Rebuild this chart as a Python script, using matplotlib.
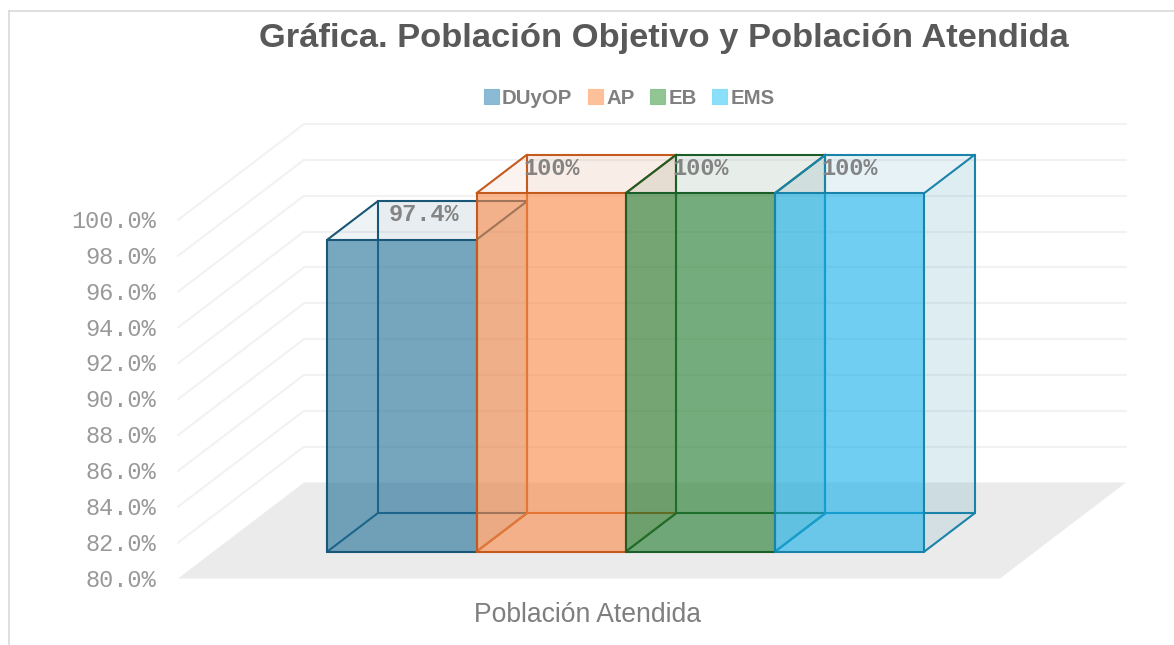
import matplotlib
matplotlib.use('Agg')
import matplotlib.pyplot as plt
from matplotlib.patches import Polygon, Patch
from matplotlib.lines import Line2D
from matplotlib.transforms import ScaledTranslation

series = ['DUyOP', 'AP', 'EB', 'EMS']
values = [97.4, 100.0, 100.0, 100.0]
value_labels = ['97.4%', '100%', '100%', '100%']
face_colors = ['#1f6f97', '#fb8a46', '#1f7a2b', '#14b0ea']
edge_colors = ['#1a5676', '#c55a1e', '#1c5e2a', '#1a83aa']
legend_colors = ['#7fb4d0', '#fdbb8e', '#86bf88', '#7fdcf8']
y_ticks = [80, 82, 84, 86, 88, 90, 92, 94, 96, 98, 100]
category = 'Población Atendida'
title = 'Gráfica. Población Objetivo y Población Atendida'

W, H = 1174, 645
# oblique projection: depth 0..1 shifts a point right and up
PX_X = 149.25
PX_Y = 17.925
DEPTH_X = 126 / PX_X
DEPTH_Y = 96 / PX_Y
Z_FRONT = 0.28
Z_BACK = 0.68
XMIN = -114 / PX_X
XMAX = XMIN + 822 / PX_X
GREY = '#999999'


def proj(x, y, z):
    return (x + z * DEPTH_X, y + z * DEPTH_Y)


def face(ax, pts, color, alpha, z):
    ax.add_patch(Polygon([proj(*p) for p in pts], closed=True, facecolor=color,
                         edgecolor='none', alpha=alpha, zorder=z, clip_on=False))


def edges(ax, a, b, color, z, lw=1.5, alpha=1.0):
    p, q = proj(*a), proj(*b)
    ax.add_line(Line2D([p[0], q[0]], [p[1], q[1]], color=color, lw=lw, alpha=alpha,
                       zorder=z, clip_on=False, solid_capstyle='round'))


def draw_bar(ax, i, val, fc, ec, base_z):
    x0, x1 = i, i + 1
    zf, zb = Z_FRONT, Z_BACK
    b = y_ticks[0]
    face(ax, [(x0, b, zb), (x1, b, zb), (x1, val, zb), (x0, val, zb)], ec, 0.03, base_z)
    face(ax, [(x1, b, zf), (x1, b, zb), (x1, val, zb), (x1, val, zf)], ec, 0.11, base_z + 0.1)
    face(ax, [(x0, val, zf), (x1, val, zf), (x1, val, zb), (x0, val, zb)], ec, 0.07, base_z + 0.1)
    face(ax, [(x0, b, zf), (x1, b, zf), (x1, val, zf), (x0, val, zf)], fc, 0.6, base_z + 0.2)
    # hidden back edges first, then the front box
    for a, c in [((x0, b, zb), (x1, b, zb)), ((x0, b, zb), (x0, val, zb)),
                 ((x1, b, zb), (x1, val, zb)), ((x0, val, zb), (x1, val, zb)),
                 ((x0, b, zf), (x0, b, zb)), ((x1, b, zf), (x1, b, zb))]:
        edges(ax, a, c, ec, base_z + 0.15)
    for a, c in [((x0, b, zf), (x1, b, zf)), ((x0, b, zf), (x0, val, zf)),
                 ((x1, b, zf), (x1, val, zf)), ((x0, val, zf), (x1, val, zf)),
                 ((x0, val, zf), (x0, val, zb)), ((x1, val, zf), (x1, val, zb))]:
        edges(ax, a, c, ec, base_z + 0.3)


fig = plt.figure(figsize=(W / 100, H / 100), dpi=100)
fig.patch.set_facecolor('white')

ax = fig.add_axes([178 / W, (H - 578.5) / H, 949 / W, 454.5 / H])
ax.set_xlim(XMIN, XMIN + 949 / PX_X)
ax.set_ylim(y_ticks[0], y_ticks[0] + 454.5 / PX_Y)
ax.patch.set_alpha(0)
for s in ax.spines.values():
    s.set_visible(False)

# floor and walls
face(ax, [(XMIN, 80, 0), (XMAX, 80, 0), (XMAX, 80, 1), (XMIN, 80, 1)], '#ebebeb', 1, 1)
for t in y_ticks[1:]:
    edges(ax, (XMIN, t, 0), (XMIN, t, 1), '#f2f2f2', 1.2, lw=1.5)
    edges(ax, (XMIN, t, 1), (XMAX, t, 1), '#f2f2f2', 1.2, lw=1.5)

for i, val in enumerate(values):
    draw_bar(ax, i, val, face_colors[i], edge_colors[i], 2 + i)

label_shift = [22, 0, 0, 0]
for i, val in enumerate(values):
    ax.annotate(value_labels[i], xy=proj(i + 0.5, val, Z_FRONT), xytext=(label_shift[i] * 0.72, 18),
                textcoords='offset points', ha='center', va='center', zorder=10,
                family='Liberation Mono', weight='bold', size=17, color='#848484')

ax.set_yticks(y_ticks)
ax.set_yticklabels(['%.1f%%' % t for t in y_ticks], family='Liberation Mono',
                   size=17, color=GREY)
ax.tick_params(axis='y', length=0, pad=16)
nudge = ScaledTranslation(0, 1 / 100, fig.dpi_scale_trans)
for lab in ax.get_yticklabels():
    lab.set_transform(lab.get_transform() + nudge)
ax.set_xticks([XMIN + 820 / PX_X / 2])
ax.set_xticklabels([category], family='Liberation Sans', size=19.1, color='#7f7f7f')
ax.tick_params(axis='x', length=0, pad=17)

fig.text(664 / W, 1 - 38 / H, title, ha='center', va='center', family='Liberation Sans',
         weight='bold', size=24.8, color='#595959')

handles = [Patch(facecolor=c, edgecolor=c, alpha=0.9, lw=0.8) for c in legend_colors]
fig.legend(handles, series, loc='center', bbox_to_anchor=(629 / W, 1 - 98 / H), ncol=4, frameon=False,
           handlelength=0.75, handleheight=0.75, handletextpad=0.15, columnspacing=0.75,
           prop={'family': 'Liberation Sans', 'weight': 'bold', 'size': 14.7}, labelcolor='#7f7f7f')

# chart frame
fig.add_artist(Line2D([8.5 / W, 8.5 / W], [0, 1 - 10.5 / H], color='#d9d9d9', lw=1.2))
fig.add_artist(Line2D([8.5 / W, 1], [1 - 10.5 / H, 1 - 10.5 / H], color='#d9d9d9', lw=1.2))

fig.savefig('out.png', dpi=100, facecolor='white')
